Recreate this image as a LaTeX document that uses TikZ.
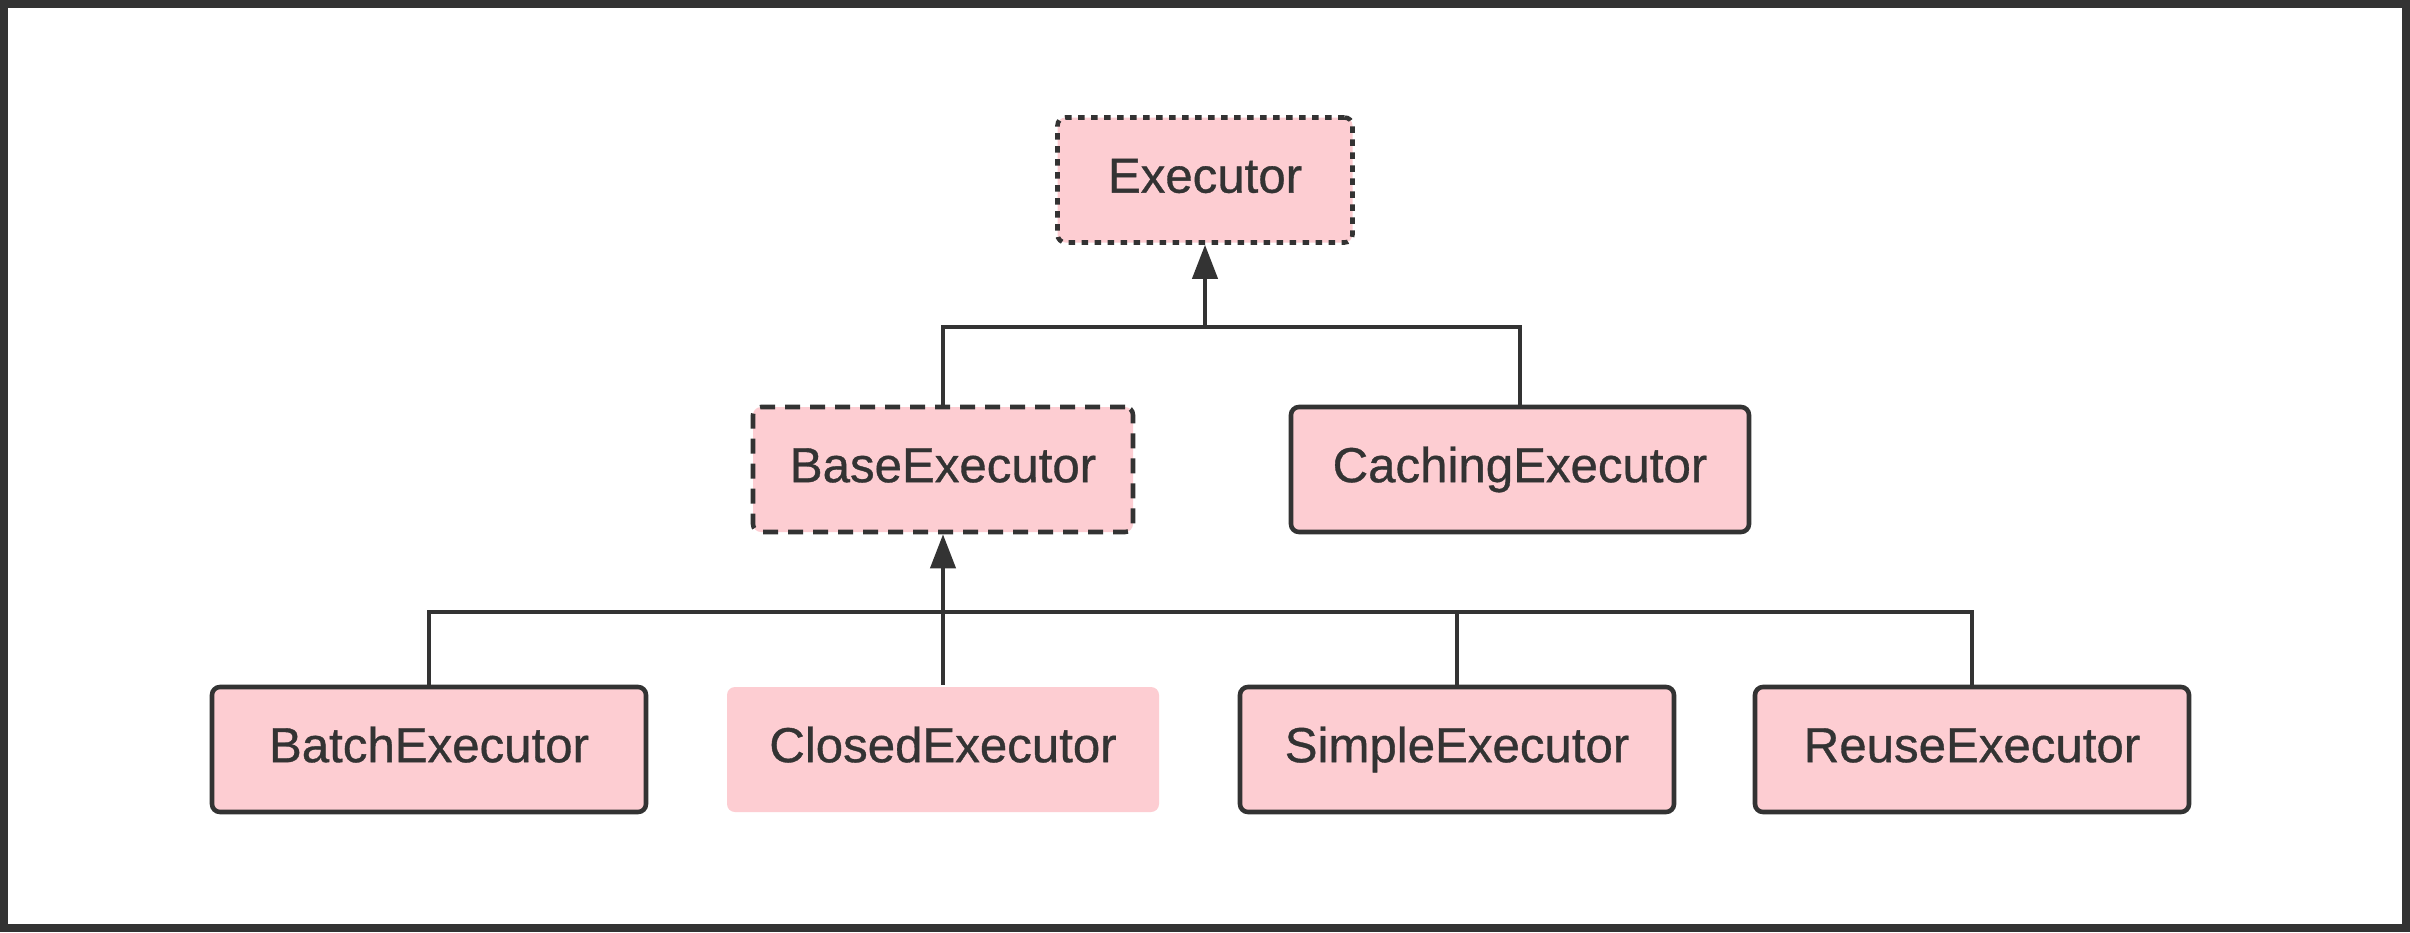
\documentclass[tikz,border=0pt]{standalone}
\usepackage{fontspec}
\setmainfont{Liberation Sans}
\newfontfamily\clsfont{Liberation Sans}[FakeBold=0.7]
\usepackage{xcolor}
\usepackage{tikz}
\usetikzlibrary{arrows.meta, positioning, calc}
\definecolor{ink}{HTML}{333333}
\definecolor{blush}{HTML}{FDCDD2}

\begin{document}
\begin{tikzpicture}[font=\clsfont\fontsize{14}{17}\selectfont,
  cls/.style={draw=ink, line width=1.3pt, fill=blush, rounded corners=0.08cm,
    minimum height=1.25cm, text=ink, inner sep=0pt, text height=0.72em, text depth=0em},
  link/.style={draw=ink, line width=1.15pt},
  inherit/.style={link, -{Triangle[length=0.34cm, width=0.25cm]}}]
  % Frame
  \fill[ink] (0,0) rectangle (24.10,-9.32);
  \fill[white] (0.08,-0.08) rectangle (24.02,-9.24);
  % Classes
  \node[cls, minimum width=2.95cm, dash pattern=on 0.065cm off 0.065cm] (exec) at (12.05,-1.80) {Executor};
  \node[cls, minimum width=3.80cm, dash pattern=on 0.15cm off 0.10cm] (base) at (9.43,-4.695) {BaseExecutor};
  \node[cls, minimum width=4.58cm] (caching) at (15.20,-4.695) {CachingExecutor};
  \node[cls, minimum width=4.34cm] (batch) at (4.29,-7.495) {BatchExecutor};
  \node[cls, draw=none, minimum width=4.32cm] (closed) at (9.43,-7.495) {ClosedExecutor};
  \node[cls, minimum width=4.34cm] (simple) at (14.57,-7.495) {SimpleExecutor};
  \node[cls, minimum width=4.34cm] (reuse) at (19.72,-7.495) {ReuseExecutor};
  % Inheritance
  \coordinate (top) at ($(exec.south)+(0,-0.82)$);
  \draw[link] (base.north) |- (top) -| (caching.north);
  \draw[inherit] (top) -- (exec.south);
  \coordinate (low) at ($(base.south)+(0,-0.78)$);
  \draw[link] (batch.north) |- (low) -| (reuse.north);
  \draw[link] (simple.north) -- (simple.north |- low);
  \draw[inherit] (closed.north) -- (base.south);
\end{tikzpicture}
\end{document}
